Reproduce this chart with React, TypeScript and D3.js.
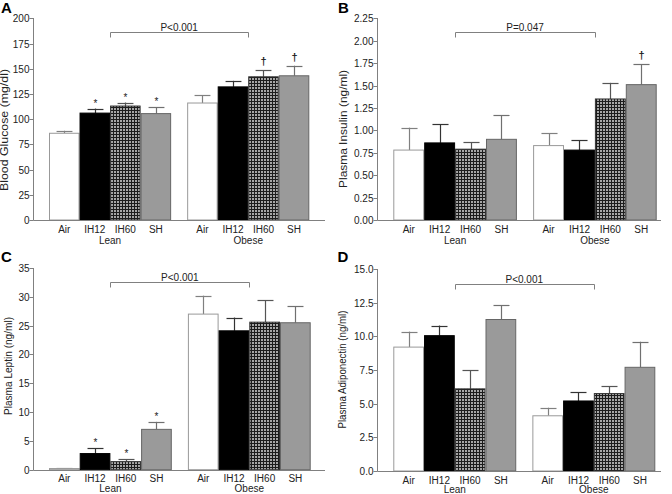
import React from "react";
import * as d3 from "d3";

const groups = ["Lean", "Obese"];
const treatments = ["Air", "IH12", "IH60", "SH"];

// Panel A: Blood glucose (mg/dl)
const glucoseMean = [86, 106, 113, 105.5, 116, 132, 142, 143];
const glucoseSem = [2.5, 4.5, 3.5, 6.5, 7.5, 6, 6.3, 10];
const glucoseMarks = ["", "*", "*", "*", "", "", "†", "†"];

// Panel B: Plasma insulin (ng/ml)
const insulinMean = [0.78, 0.86, 0.79, 0.9, 0.83, 0.78, 1.35, 1.51];
const insulinSem = [0.25, 0.21, 0.08, 0.27, 0.14, 0.11, 0.18, 0.23];
const insulinMarks = ["", "", "", "", "", "", "", "†"];

// Panel C: Plasma leptin (ng/ml)
const leptinMean = [0.2, 2.8, 1.4, 7.0, 27.0, 24.1, 25.6, 25.5];
const leptinSem = [0.1, 0.9, 0.4, 1.3, 3.2, 2.3, 3.8, 2.9];
const leptinMarks = ["", "*", "*", "*", "", "", "", ""];

// Panel D: Plasma adiponectin (ng/ml)
const adipoMean = [9.2, 10.05, 6.1, 11.25, 4.1, 5.2, 5.75, 7.7];
const adipoSem = [1.15, 0.75, 1.4, 1.05, 0.6, 0.65, 0.55, 1.9];
const adipoMarks = ["", "", "", "", "", "", "", ""];

const panelLetters = ["A", "B", "C", "D"];
const yLabels = [
  "Blood Glucose (mg/dl)",
  "Plasma Insulin (ng/ml)",
  "Plasma Leptin (ng/ml)",
  "Plasma Adiponectin (ng/ml)",
];
const yMaxes = [200, 2.25, 35, 15];
const yTickSteps = [25, 0.25, 5, 2.5];
const yTickDecimals = [0, 2, 0, 1];
const pTexts = ["P<0.001", "P=0.047", "P<0.001", "P<0.001"];
const bracketValues = [186, 2.1, 32.6, 13.86];

const FONT = "'Liberation Sans', Arial, Helvetica, sans-serif";
const AXIS = "#808080";
const TEXT = "#222";

const fills = ["#ffffff", "#000000", "url(#checker)", "#9a9a9a"];
const strokes = ["#999999", "#000000", "#333333", "#666666"];
const errStrokes = ["#808080", "#333333", "#555555", "#707070"];

type Layout = {
  axisX: number;
  axisEnd: number;
  barL: number;
  barR: number;
  y0: number;
  y1: number;
  labelX: number;
  labelY: number;
  labelLen: number;
  letterX: number;
  letterY: number;
  groupDy: number;
};

const layouts: Layout[] = [
  { axisX: 33, axisEnd: 325, barL: 49, barR: 309.3, y0: 220, y1: 18.3, labelX: 8, labelY: 130, labelLen: 122, letterX: 1, letterY: 12.5, groupDy: 23.5 },
  { axisX: 377, axisEnd: 661, barL: 393.3, barR: 656.7, y0: 220, y1: 18.3, labelX: 346.5, labelY: 129, labelLen: 118, letterX: 338, letterY: 12.5, groupDy: 23.5 },
  { axisX: 33, axisEnd: 325, barL: 49, barR: 310.7, y0: 469.7, y1: 268, labelX: 11.5, labelY: 366, labelLen: 98, letterX: 1, letterY: 262, groupDy: 22.5 },
  { axisX: 377, axisEnd: 661, barL: 393.3, barR: 655.3, y0: 471, y1: 269, labelX: 346, labelY: 369.5, labelLen: 118, letterX: 337.5, letterY: 262, groupDy: 21.5 },
];

const means = [glucoseMean, insulinMean, leptinMean, adipoMean];
const sems = [glucoseSem, insulinSem, leptinSem, adipoSem];
const marks = [glucoseMarks, insulinMarks, leptinMarks, adipoMarks];

function Panel({ i }: { i: number }) {
  const L = layouts[i];
  const y = d3.scaleLinear().domain([0, yMaxes[i]]).range([L.y0, L.y1]);
  const gx = d3.scaleBand<string>().domain(groups).range([L.barL, L.barR]).paddingInner(0.116).paddingOuter(0);
  const tx = d3.scaleBand<string>().domain(treatments).range([0, gx.bandwidth()]).padding(0);
  const ticks = d3.range(0, yMaxes[i] + yTickSteps[i] / 2, yTickSteps[i]);
  const fmt = d3.format(`.${yTickDecimals[i]}f`);
  const ax = Math.round(L.axisX) + 0.5;
  const ay = Math.round(L.y0) + 0.5;
  const bw = tx.bandwidth();
  const bracketY = Math.round(y(bracketValues[i])) + 0.5;
  const bx1 = (gx("Lean") as number) + gx.bandwidth() / 2;
  const bx2 = (gx("Obese") as number) + gx.bandwidth() / 2;

  const bars: React.ReactNode[] = [];
  groups.forEach((g, gi) => {
    treatments.forEach((t, ti) => {
      const k = gi * 4 + ti;
      const m = means[i][k];
      const s = sems[i][k];
      const x = (gx(g) as number) + (tx(t) as number);
      const top = y(m);
      const tip = y(m + s);
      const cx = Math.round(x + bw / 2) + 0.5;
      bars.push(
        <g key={`b${k}`}>
          <line x1={cx} x2={cx} y1={top} y2={tip} stroke={errStrokes[ti]} strokeWidth={1.2} />
          <line x1={cx - bw * 0.26} x2={cx + bw * 0.26} y1={Math.round(tip) + 0.5} y2={Math.round(tip) + 0.5} stroke={errStrokes[ti]} strokeWidth={1.2} />
          <rect
            x={x + 0.5}
            y={top}
            width={bw - 1}
            height={Math.max(0, L.y0 - top)}
            fill={fills[ti]}
            stroke={strokes[ti]}
            strokeWidth={1}
          />
          {marks[i][k] === "*" && (
            <text x={cx} y={tip - 2} textAnchor="middle" fontSize={10} fontFamily={FONT} fill={TEXT}>
              *
            </text>
          )}
          {marks[i][k] === "†" && (
            <text x={cx} y={tip - 5} textAnchor="middle" fontSize={11} fontWeight="bold" fontFamily={FONT} fill={TEXT}>
              †
            </text>
          )}
        </g>
      );
    });
  });

  return (
    <g>
      <text x={L.letterX} y={L.letterY} fontSize={15} fontWeight="bold" fontFamily={FONT} fill="#000">
        {panelLetters[i]}
      </text>
      <text
        transform={`translate(${L.labelX},${L.labelY}) rotate(-90)`}
        textAnchor="middle"
        fontSize={10}
        fontFamily={FONT}
        fill={TEXT}
        textLength={L.labelLen}
        lengthAdjust="spacingAndGlyphs"
      >
        {yLabels[i]}
      </text>
      {ticks.map((v) => {
        const ty = Math.round(y(v)) + 0.5;
        return (
          <g key={`t${v}`}>
            <line x1={ax - 4} x2={ax} y1={ty} y2={ty} stroke={AXIS} strokeWidth={1} />
            <text x={ax - 4} y={ty + 3.5} textAnchor="end" fontSize={10} fontFamily={FONT} fill={TEXT}>
              {fmt(v)}
            </text>
          </g>
        );
      })}
      {bars}
      <line x1={ax} x2={ax} y1={Math.round(L.y1)} y2={ay} stroke={AXIS} strokeWidth={1} />
      <line x1={ax} x2={L.axisEnd} y1={ay} y2={ay} stroke={AXIS} strokeWidth={1} />
      {groups.map((g) =>
        treatments.map((t) => (
          <text
            key={`x${g}${t}`}
            x={(gx(g) as number) + (tx(t) as number) + bw / 2}
            y={L.y0 + 12.5}
            textAnchor="middle"
            fontSize={10}
            fontFamily={FONT}
            fill={TEXT}
          >
            {t}
          </text>
        ))
      )}
      {groups.map((g) => (
        <text
          key={`g${g}`}
          x={(gx(g) as number) + gx.bandwidth() / 2}
          y={L.y0 + L.groupDy}
          textAnchor="middle"
          fontSize={10}
          fontFamily={FONT}
          fill={TEXT}
        >
          {g}
        </text>
      ))}
      <path
        d={`M${Math.round(bx1) + 0.5},${bracketY + 5}V${bracketY}H${Math.round(bx2) + 0.5}V${bracketY + 5}`}
        fill="none"
        stroke={AXIS}
        strokeWidth={1}
      />
      <text x={(bx1 + bx2) / 2} y={bracketY - 1.5} textAnchor="middle" fontSize={10} fontFamily={FONT} fill={TEXT}>
        {pTexts[i]}
      </text>
    </g>
  );
}

export default function App() {
  return (
    <svg
      width={672}
      height={494}
      viewBox="0 0 672 494"
      style={{ position: "absolute", left: 0, top: 0, background: "#fff" }}
    >
      <defs>
        <pattern id="checker" width={3} height={3} patternUnits="userSpaceOnUse">
          <rect width={3} height={3} fill="#1c1c1c" />
          <rect x={0} y={0} width={2} height={2} fill="#a6a6a6" />
        </pattern>
      </defs>
      <rect width={672} height={494} fill="#fff" />
      {[0, 1, 2, 3].map((i) => (
        <Panel key={i} i={i} />
      ))}
    </svg>
  );
}
